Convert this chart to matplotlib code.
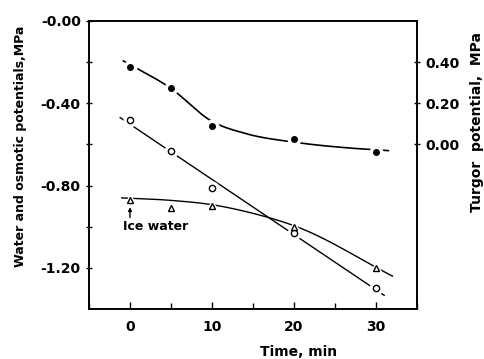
import numpy as np
import matplotlib
matplotlib.use("Agg")
import matplotlib.pyplot as plt

plt.rcParams["font.family"] = ["DejaVu Sans"]
plt.rcParams["font.weight"] = "bold"

# Time points, min
time = [0, 5, 10, 20, 30]
# Turgor potential (filled dots, right axis), MPa
turgor = [0.377, 0.272, 0.089, 0.024, -0.038]
# Water potential (open circles), MPa
water = [-0.483, -0.630, -0.810, -1.030, -1.300]
# Osmotic potential (triangles), MPa
osmotic = [-0.868, -0.907, -0.900, -1.000, -1.200]

# hand-drawn curve guides
turgor_curve_t = [-0.8, 5, 10, 14, 20, 26, 31.5]
turgor_curve_v = [0.406, 0.272, 0.112, 0.054, 0.011, -0.015, -0.030]
osm_curve_t = [-1, 5, 10, 15, 20, 32]
osm_curve_v = [-0.860, -0.872, -0.893, -0.935, -0.995, -1.240]


def smooth(xk, yk, n=300):
    """Cubic Hermite curve through the knots (central-difference slopes)."""
    xk = np.asarray(xk, float)
    yk = np.asarray(yk, float)
    m = np.gradient(yk, xk)
    x = np.linspace(xk[0], xk[-1], n)
    i = np.clip(np.searchsorted(xk, x) - 1, 0, len(xk) - 2)
    h = xk[i + 1] - xk[i]
    s = (x - xk[i]) / h
    y = ((2 * s**3 - 3 * s**2 + 1) * yk[i] + (s**3 - 2 * s**2 + s) * h * m[i]
         + (-2 * s**3 + 3 * s**2) * yk[i + 1] + (s**3 - s**2) * h * m[i + 1])
    return x, y


fig = plt.figure(figsize=(4.85, 3.59), dpi=100)
ax = fig.add_axes([89 / 485, 1 - 309 / 359, 328 / 485, 288 / 359])
ax2 = ax.twinx()

halo = dict(markerfacecolor="white", markeredgecolor="white", markersize=9, linestyle="none", zorder=3)

# water potential: straight line fit
wfit = np.polyfit(time, water, 1)
tw = np.linspace(-1.2, 31, 50)
ax.plot(tw, np.polyval(wfit, tw), color="black", lw=1.0, zorder=2)
ax.plot(time, water, marker="o", **halo)
ax.plot(time, water, marker="o", markersize=4.5, markerfacecolor="white",
        markeredgecolor="black", markeredgewidth=1.0, linestyle="none", zorder=4)

# osmotic potential: smooth curve
ox, oy = smooth(osm_curve_t, osm_curve_v)
ax.plot(ox, oy, color="black", lw=1.0, zorder=2)
ax.plot(time, osmotic, marker="^", **halo)
ax.plot(time, osmotic, marker="^", markersize=5, markerfacecolor="white",
        markeredgecolor="black", markeredgewidth=1.0, linestyle="none", zorder=4)

# turgor: smooth curve on right axis
tx, ty = smooth(turgor_curve_t, turgor_curve_v)
ax2.plot(tx, ty, color="black", lw=1.2, zorder=2)
ax2.plot(time, turgor, marker="o", **halo)
ax2.plot(time, turgor, marker="o", markersize=4, color="black", linestyle="none", zorder=4)

ax.text(-0.9, -1.0, "Ice water", fontsize=9, fontweight="bold", va="center", ha="left")
ax.annotate("", xy=(0, -0.905), xytext=(0, -0.955),
            arrowprops=dict(arrowstyle="-|>", color="black", lw=1.0,
                            shrinkA=0, shrinkB=0, mutation_scale=5))

ax.set_xlim(-5, 35)
ax.set_ylim(-1.40, 0.0)
ax2.set_ylim(-0.80, 0.60)

ax.set_xticks([0, 10, 20, 30])
ax.set_xticks([-5, 5, 15, 25, 35], minor=True)
ax.set_yticks([0.0, -0.4, -0.8, -1.2])
ax.set_yticklabels(["-0.00", "-0.40", "-0.80", "-1.20"])
ax.set_yticks([-0.2, -0.6, -1.0], minor=True)
ax2.set_yticks([0.0, 0.2, 0.4])
ax2.set_yticklabels(["0.00", "0.20", "0.40"])

for a in (ax, ax2):
    a.tick_params(which="both", direction="inout", length=5, width=1.0, labelsize=10)
    a.tick_params(which="minor", length=4)
    for s in a.spines.values():
        s.set_linewidth(1.2)
ax.tick_params(axis="x", which="both", direction="in", pad=8)

ax.set_xlabel("Time, min", fontsize=10, fontweight="bold", va="center")
ax.xaxis.set_label_coords(0.64, -0.149)
ax.set_ylabel("Water and osmotic potentials,MPa", fontsize=9, fontweight="bold", va="center")
ax.yaxis.set_label_coords(-0.21, 0.566)
ax2.set_ylabel("Turgor  potential,  MPa", fontsize=10, fontweight="bold", va="center", rotation=90)
ax2.yaxis.set_label_coords(1.183, 0.65)

fig.savefig("out.png", dpi=100)
